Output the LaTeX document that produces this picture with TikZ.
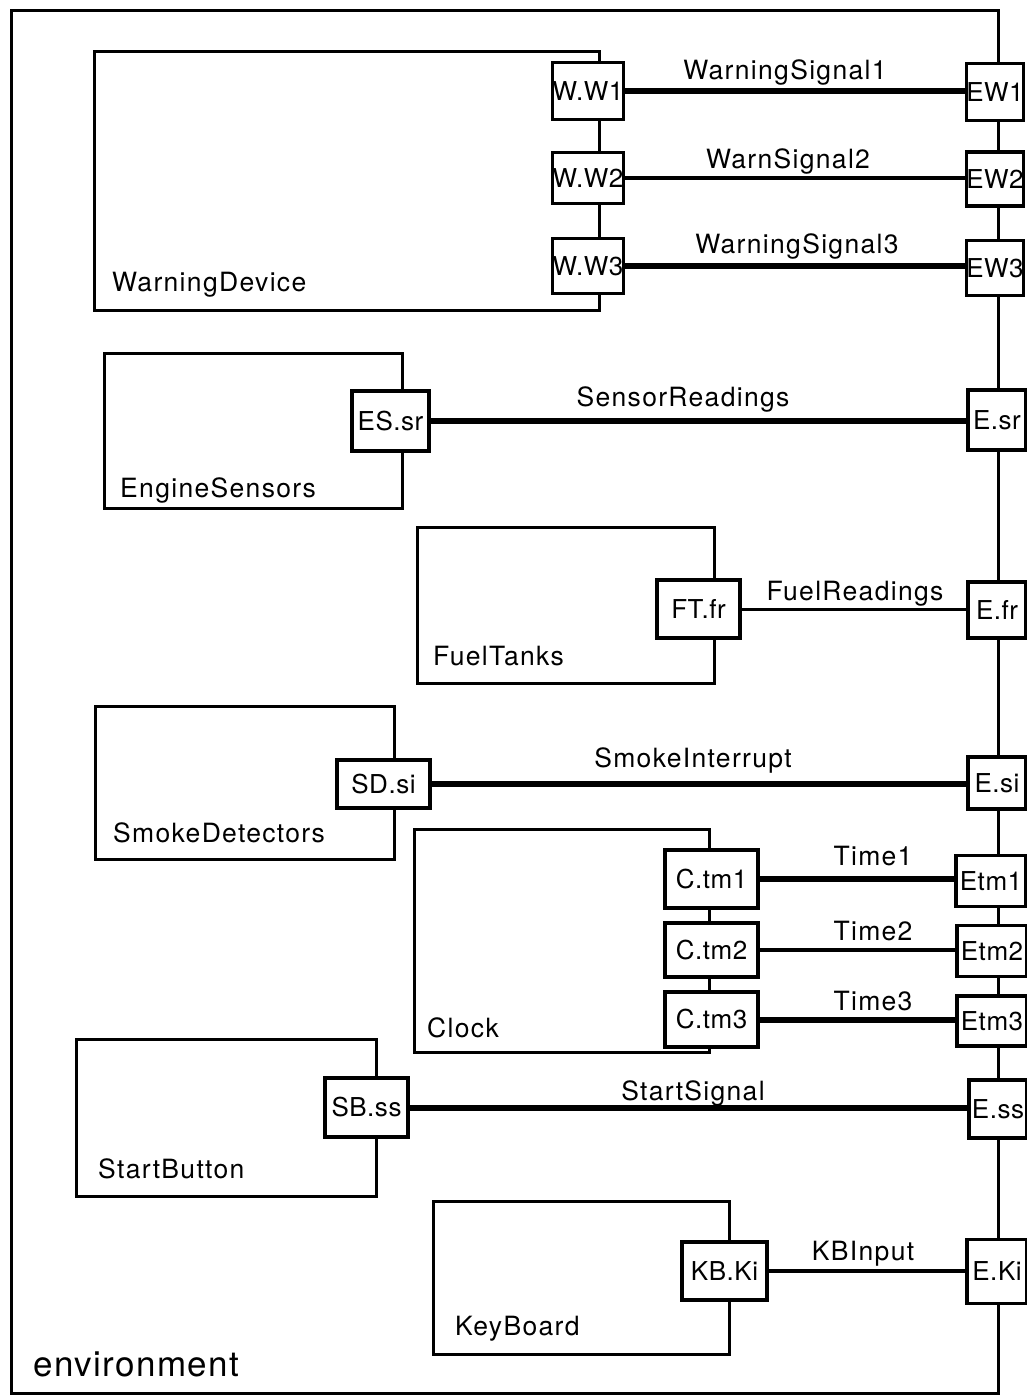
\documentclass[tikz,border=0pt]{standalone}
\usepackage{fontspec}
\newfontfamily\dgfont{TeX Gyre Heros}[LetterSpace=5]
\newfontfamily\dgportfont{TeX Gyre Heros}[LetterSpace=2]
\newfontfamily\dgenvfont{TeX Gyre Heros}[LetterSpace=4]
\begin{document}
\begin{tikzpicture}[x=1pt,y=-1pt,
  comp/.style={draw, line width=3.2pt, anchor=north west, inner sep=0pt},
  port/.style={draw, fill=white, line width=3.2pt, inner sep=0pt,
    font={\dgportfont\fontsize{26}{30}\selectfont}},
  wire/.style={line width=6pt},
  midwire/.style={line width=4.5pt},
  thinwire/.style={line width=3pt},
  cname/.style={anchor=base west, inner sep=0pt, font={\dgfont\fontsize{26.5}{30}\selectfont}},
  sig/.style={anchor=base, inner sep=0pt, font={\dgfont\fontsize{26.5}{30}\selectfont}},
]
\useasboundingbox (0,0) rectangle (1027,1397);
\fill[white] (0,0) rectangle (1027,1397);

% enclosing environment
\node[comp, minimum width=987pt, minimum height=1383pt] (env) at (10,9) {};
\node[anchor=base west, inner sep=0pt, font={\dgenvfont\fontsize{35}{40}\selectfont}] (envname) at (33,1376) {environment};

% components
\node[comp, minimum width=505pt, minimum height=259pt] (wd) at (93,50) {};
\node[cname] (wdname) at (112,291) {WarningDevice};
\node[comp, minimum width=298pt, minimum height=155pt] (es) at (103,352) {};
\node[cname] (esname) at (120,497) {EngineSensors};
\node[comp, minimum width=297pt, minimum height=156pt] (ft) at (416,526) {};
\node[cname] (ftname) at (433,665) {FuelTanks};
\node[comp, minimum width=299pt, minimum height=153pt] (sd) at (94,705) {};
\node[cname] (sdname) at (113,842) {SmokeDetectors};
\node[comp, minimum width=295pt, minimum height=223pt] (ck) at (413,828) {};
\node[cname] (ckname) at (427,1037) {Clock};
\node[comp, minimum width=300pt, minimum height=157pt] (sb) at (75,1038) {};
\node[cname] (sbname) at (98,1178) {StartButton};
\node[comp, minimum width=296pt, minimum height=153pt] (kb) at (432,1200) {};
\node[cname] (kbname) at (455,1335) {KeyBoard};

% component ports
\node[port, minimum width=70pt, minimum height=57pt] (ww1) at (588,91) {W.W1};
\node[port, minimum width=70pt, minimum height=51pt] (ww2) at (588,178) {W.W2};
\node[port, minimum width=70pt, minimum height=55pt] (ww3) at (588,266) {W.W3};
\node[port, minimum width=77pt, minimum height=60pt] (essr) at (390.5,421) {ES.sr};
\node[port, minimum width=83pt, minimum height=58pt] (ftfr) at (698.5,609) {FT.fr};
\node[port, minimum width=93pt, minimum height=48pt] (sdsi) at (383.5,784) {SD.si};
\node[port, minimum width=93pt, minimum height=58pt] (ctm1) at (711.5,879) {C.tm1};
\node[port, minimum width=93pt, minimum height=54pt] (ctm2) at (711.5,950) {C.tm2};
\node[port, minimum width=93pt, minimum height=55pt] (ctm3) at (711.5,1019.5) {C.tm3};
\node[port, minimum width=83pt, minimum height=59pt] (sbss) at (366.5,1107.5) {SB.ss};
\node[port, minimum width=85pt, minimum height=58pt] (kbki) at (724.5,1271) {KB.Ki};

% environment ports
\node[port, minimum width=56pt, minimum height=57pt] (ew1) at (995,92) {EW1};
\node[port, minimum width=56pt, minimum height=54pt] (ew2) at (995,179) {EW2};
\node[port, minimum width=56pt, minimum height=55pt] (ew3) at (995,268) {EW3};
\node[port, minimum width=58pt, minimum height=60pt] (esr) at (997,420) {E.sr};
\node[port, minimum width=58pt, minimum height=56pt] (efr) at (997,610) {E.fr};
\node[port, minimum width=58pt, minimum height=52pt] (esi) at (997,783) {E.si};
\node[port, minimum width=70pt, minimum height=51pt] (etm1) at (991,881) {Etm1};
\node[port, minimum width=70pt, minimum height=51pt] (etm2) at (992,951) {Etm2};
\node[port, minimum width=70pt, minimum height=50pt] (etm3) at (992,1021) {Etm3};
\node[port, minimum width=58pt, minimum height=58pt] (ess) at (998,1109) {E.ss};
\node[port, minimum width=60pt, minimum height=64pt] (eki) at (997,1271.5) {E.Ki};

% connectors, kept level with the component-side port
\draw[wire] (ww1.east) -- (ww1.east -| ew1.west);
\draw[midwire] (ww2.east) -- (ww2.east -| ew2.west);
\draw[wire] (ww3.east) -- (ww3.east -| ew3.west);
\draw[wire] (essr.east) -- (essr.east -| esr.west);
\draw[thinwire] (ftfr.east) -- (ftfr.east -| efr.west);
\draw[wire] (sdsi.east) -- (sdsi.east -| esi.west);
\draw[wire] (ctm1.east) -- (ctm1.east -| etm1.west);
\draw[midwire] (ctm2.east) -- (ctm2.east -| etm2.west);
\draw[wire] (ctm3.east) -- (ctm3.east -| etm3.west);
\draw[wire] (sbss.east) -- (sbss.east -| ess.west);
\draw[midwire] (kbki.east) -- (kbki.east -| eki.west);

% connector names
\node[sig] (l1) at (785,80) {WarningSignal1};
\node[sig] (l2) at (788,168) {WarnSignal2};
\node[sig] (l3) at (797,253) {WarningSignal3};
\node[sig] (l4) at (683,406) {SensorReadings};
\node[sig] (l5) at (855,600) {FuelReadings};
\node[sig] (l6) at (693,767) {SmokeInterrupt};
\node[sig] (l7) at (873,865) {Time1};
\node[sig] (l8) at (873,940) {Time2};
\node[sig] (l9) at (873,1010) {Time3};
\node[sig] (l10) at (693,1100) {StartSignal};
\node[sig] (l11) at (863,1260) {KBInput};
\end{tikzpicture}
\end{document}
